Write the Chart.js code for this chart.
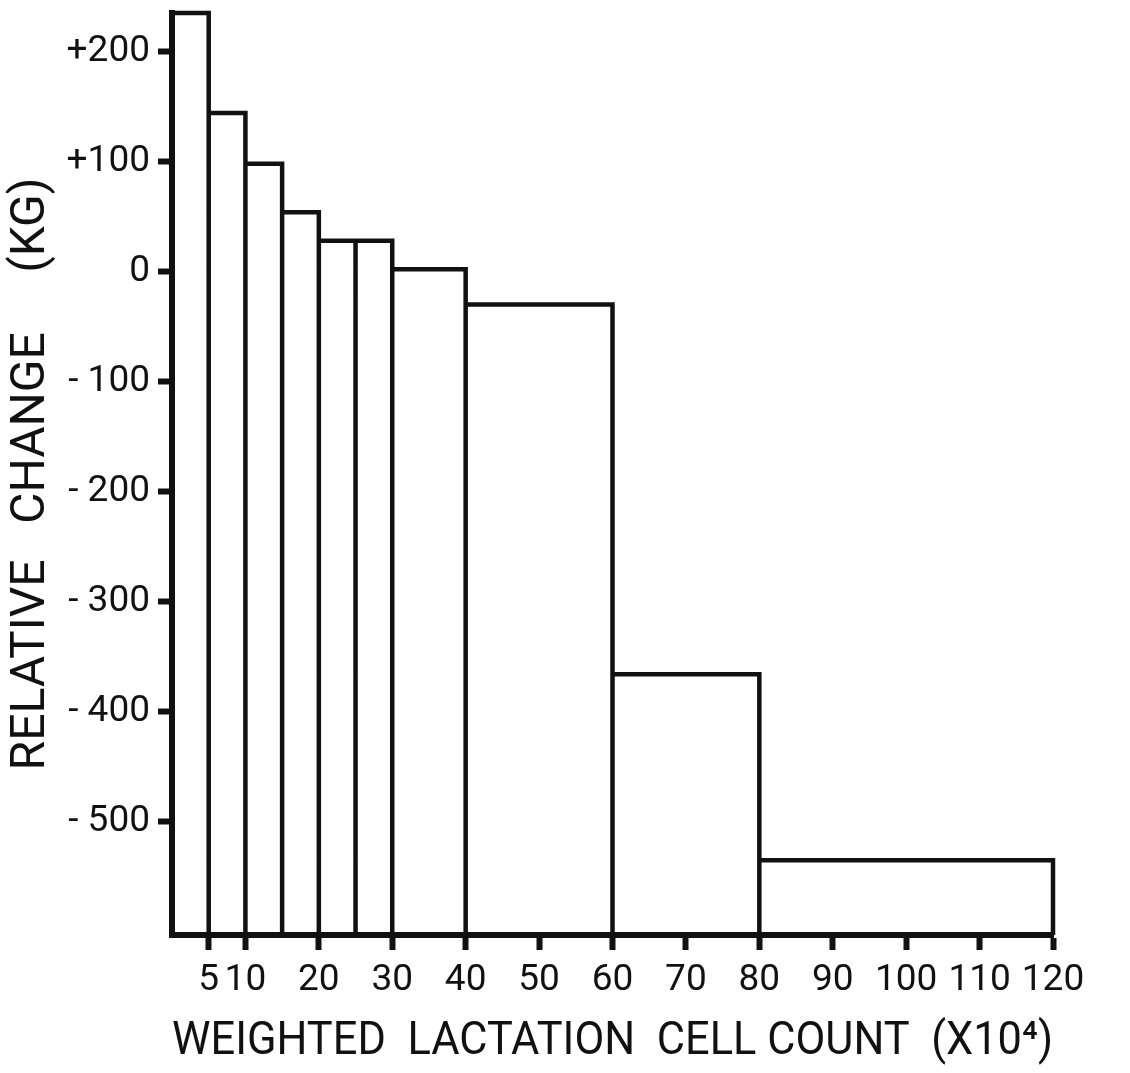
<!DOCTYPE html>
<html>
<head>
<meta charset="utf-8">
<script src="https://cdn.jsdelivr.net/npm/chart.js@4.4.0/dist/chart.umd.min.js"></script>
<style>
  html, body { margin: 0; padding: 0; background: #fff; }
  #wrap { width: 1130px; height: 1073px; }
</style>
</head>
<body>
<div id="wrap"><canvas id="histChart" width="1130" height="1073"></canvas></div>
<script>
// bin edges of the weighted lactation cell count (x10^4)
const binEdges = [0, 5, 10, 15, 20, 25, 30, 40, 60, 80, 120];
// relative change (kg) for each bin
const relChange = [235, 144, 98, 54, 28, 28, 2, -30, -366, -535];
const xTicks = [5, 10, 20, 30, 40, 50, 60, 70, 80, 90, 100, 110, 120];
const yTicks = [-500, -400, -300, -200, -100, 0, 100, 200];
const yTickLabels = ["- 500", "- 400", "- 300", "- 200", "- 100", "0", "+100", "+200"];
const yMin = -603;
const yMax = 235;

// trace the bars as one outline: up the left edge, across, down the right edge
const outline = [];
for (let i = 0; i < relChange.length; i++) {
    outline.push({ x: binEdges[i], y: yMin });
    outline.push({ x: binEdges[i], y: relChange[i] });
    outline.push({ x: binEdges[i + 1], y: relChange[i] });
    outline.push({ x: binEdges[i + 1], y: yMin });
}

const ink = "#111";
const fam = "Roboto, 'Liberation Sans', sans-serif";

const ctx = document.getElementById("histChart").getContext("2d");
const chart = new Chart(ctx, {
    type: "scatter",
    data: {
        datasets: [{
            data: outline,
            showLine: true,
            borderColor: ink,
            borderWidth: 4.5,
            pointRadius: 0,
            fill: false,
            clip: false
        }]
    },
    options: {
        responsive: false,
        animation: false,
        layout: { padding: { top: 13, right: 77, left: 0, bottom: 0 } },
        plugins: {
            legend: { display: false },
            tooltip: { enabled: false }
        },
        scales: {
            x: {
                type: "linear",
                min: 0,
                max: 120,
                afterBuildTicks: function(scale) {
                    scale.ticks = xTicks.map(v => ({ value: v }));
                },
                afterFit: function(scale) {
                    scale.height = 138;
                },
                border: { display: true, color: ink, width: 6 },
                grid: {
                    drawOnChartArea: false,
                    drawTicks: true,
                    tickLength: 15,
                    tickWidth: 6,
                    tickColor: ink
                },
                ticks: {
                    autoSkip: false,
                    maxRotation: 0,
                    padding: 9,
                    color: ink,
                    font: { family: fam, size: 37 },
                    callback: v => String(v)
                },
                title: {
                    display: true,
                    text: "WEIGHTED  LACTATION  CELL COUNT  (X10\u2074)",
                    color: ink,
                    font: { family: fam, size: 47, lineHeight: 1.2 },
                    padding: { top: 0, bottom: 3 }
                }
            },
            y: {
                type: "linear",
                min: yMin,
                max: yMax,
                afterBuildTicks: function(scale) {
                    scale.ticks = yTicks.map(v => ({ value: v }));
                },
                afterFit: function(scale) {
                    scale.width = 172;
                    scale.paddingTop = 0;
                    scale.paddingBottom = 0;
                },
                border: { display: true, color: ink, width: 6 },
                grid: {
                    drawOnChartArea: false,
                    drawTicks: true,
                    tickLength: 14,
                    tickWidth: 6,
                    tickColor: ink
                },
                ticks: {
                    padding: 8,
                    color: ink,
                    font: { family: fam, size: 37 },
                    callback: function(v) {
                        const i = yTicks.indexOf(v);
                        return i >= 0 ? yTickLabels[i] : "";
                    }
                },
                title: {
                    display: true,
                    text: "RELATIVE   CHANGE     (KG)",
                    color: ink,
                    font: { family: fam, size: 48, lineHeight: 1.2 },
                    padding: { top: 3, bottom: 0 }
                }
            }
        }
    }
});
</script>
</body>
</html>
